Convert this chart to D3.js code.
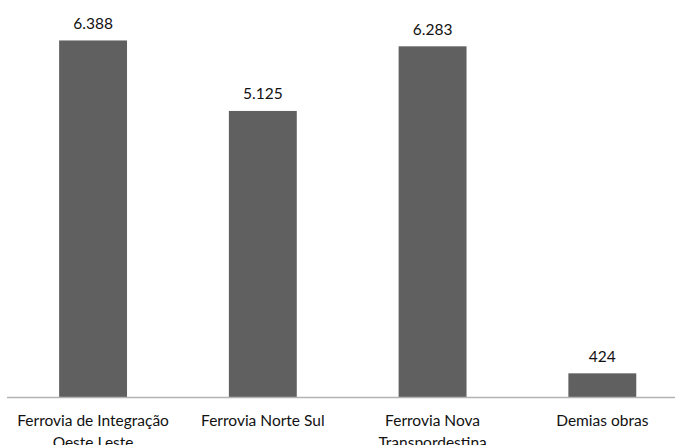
<!DOCTYPE html>
<html>
<head>
<meta charset="utf-8">
<script src="https://cdn.jsdelivr.net/npm/d3@7"></script>
<style>
  html, body { margin: 0; padding: 0; background: #fff; }
  svg { display: block; }
  text { font-family: Lato, "Open Sans", sans-serif; fill: #111; }
</style>
</head>
<body>
<svg id="chart" width="675" height="445"></svg>
<script>
const categories = [
  ["Ferrovia de Integração", "Oeste Leste"],
  ["Ferrovia Norte Sul"],
  ["Ferrovia Nova", "Transpordestina"],
  ["Demias obras"]
];
const values = [6388, 5125, 6283, 424];
const valueLabels = ["6.388", "5.125", "6.283", "424"];
const yMax = 7000;

const svg = d3.select("#chart");
const W = 675, H = 445;
const baseY = 397;

const x = d3.scaleBand()
  .domain(d3.range(categories.length))
  .range([8.2, 687.2])
  .paddingInner(0.6)
  .paddingOuter(0.3);

const y = d3.scaleLinear()
  .domain([0, yMax])
  .range([baseY, baseY - 390.7]);

// bars
svg.append("g").selectAll("rect")
  .data(values)
  .join("rect")
  .attr("x", (d, i) => x(i))
  .attr("width", x.bandwidth())
  .attr("y", d => y(d))
  .attr("height", d => y(0) - y(d))
  .attr("fill", "#606060");

// axis line
svg.append("line")
  .attr("x1", 7).attr("x2", W)
  .attr("y1", baseY + 0.5).attr("y2", baseY + 0.5)
  .attr("stroke", "#b3b3b3").attr("stroke-width", 1.3);

// value labels
svg.append("g").selectAll("text")
  .data(values)
  .join("text")
  .attr("x", (d, i) => x(i) + x.bandwidth() / 2)
  .attr("y", d => y(d) - 11.5)
  .attr("text-anchor", "middle")
  .style("font-size", "15.5px")
  .text((d, i) => valueLabels[i]);

// category labels
const cat = svg.append("g").selectAll("text")
  .data(categories)
  .join("text")
  .attr("x", (d, i) => x(i) + x.bandwidth() / 2)
  .attr("y", 426)
  .attr("text-anchor", "middle")
  .style("font-size", "15.5px");
cat.each(function(lines, i) {
  const t = d3.select(this);
  lines.forEach((ln, k) => {
    t.append("tspan")
      .attr("x", x(i) + x.bandwidth() / 2)
      .attr("dy", k === 0 ? 0 : 22)
      .text(ln);
  });
});
</script>
</body>
</html>
